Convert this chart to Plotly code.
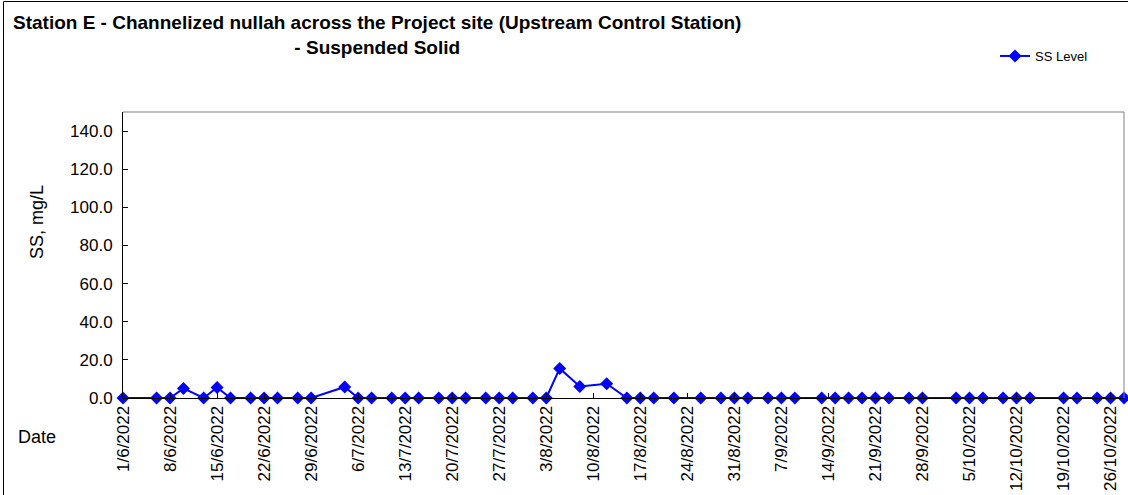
import plotly.graph_objects as go

# Sampling dates (day/month/year) and suspended solid readings, mg/L
sample_dates = [
    "1/6/2022", "6/6/2022", "8/6/2022", "10/6/2022", "13/6/2022", "15/6/2022",
    "17/6/2022", "20/6/2022", "22/6/2022", "24/6/2022", "27/6/2022", "29/6/2022",
    "4/7/2022", "6/7/2022", "8/7/2022", "11/7/2022", "13/7/2022", "15/7/2022",
    "18/7/2022", "20/7/2022", "22/7/2022", "25/7/2022", "27/7/2022", "29/7/2022",
    "1/8/2022", "3/8/2022", "5/8/2022", "8/8/2022", "12/8/2022", "15/8/2022",
    "17/8/2022", "19/8/2022", "22/8/2022", "26/8/2022", "29/8/2022", "31/8/2022",
    "2/9/2022", "5/9/2022", "7/9/2022", "9/9/2022", "13/9/2022", "15/9/2022",
    "17/9/2022", "19/9/2022", "21/9/2022", "23/9/2022", "26/9/2022", "28/9/2022",
    "3/10/2022", "5/10/2022", "7/10/2022", "10/10/2022", "12/10/2022", "14/10/2022",
    "19/10/2022", "21/10/2022", "24/10/2022", "26/10/2022", "28/10/2022",
]
ss_level = [
    0, 0, 0, 5.0, 0, 5.5,
    0, 0, 0, 0, 0, 0,
    5.8, 0, 0, 0, 0, 0,
    0, 0, 0, 0, 0, 0,
    0, 0, 15.5, 6.0, 7.5, 0,
    0, 0, 0, 0, 0, 0,
    0, 0, 0, 0, 0, 0,
    0, 0, 0, 0, 0, 0,
    0, 0, 0, 0, 0, 0,
    0, 0, 0, 0, 0,
]
y_ticks = [0, 20, 40, 60, 80, 100, 120, 140]


def to_iso(d):
    day, month, year = d.split("/")
    return f"{year}-{int(month):02d}-{int(day):02d}"


x_iso = [to_iso(d) for d in sample_dates]

W, H = 1128, 495
L, R, T, B = 123, 4, 112, 97
PW, PH = W - L - R, H - T - B
FONT = "Liberation Sans, Arial, sans-serif"


def px(x):
    return (x - L) / PW


def py(y):
    return (H - B - y) / PH


fig = go.Figure()
fig.add_trace(go.Scatter(
    x=x_iso, y=ss_level, mode="lines+markers", name="SS Level",
    line=dict(color="#0000FF", width=2),
    marker=dict(symbol="diamond", size=10, color="#0000FF"),
    cliponaxis=False,
))

fig.update_layout(
    width=W, height=H,
    margin=dict(l=L, r=R, t=T, b=B, pad=0),
    paper_bgcolor="white", plot_bgcolor="white",
    font=dict(family=FONT, size=17, color="black"),
    showlegend=True,
    legend=dict(
        x=px(995), y=py(56),
        xanchor="left", yanchor="middle",
        font=dict(family=FONT, size=13, color="black"),
        bgcolor="rgba(0,0,0,0)", borderwidth=0,
        itemwidth=30,
    ),
    xaxis=dict(
        type="date",
        range=["2022-06-01", "2022-10-28"],
        tick0="2022-06-01", dtick=7 * 24 * 3600 * 1000,
        tickformat="%-d/%-m/%Y", tickangle=-90,
        ticks="inside", ticklen=5, tickcolor="black",
        showline=True, linecolor="black", linewidth=1,
        showgrid=False, zeroline=False,
        tickfont=dict(family=FONT, size=17),
    ),
    yaxis=dict(
        range=[0, 150], tickvals=y_ticks, tickformat=".1f",
        ticks="inside", ticklen=5, tickcolor="black",
        showline=True, linecolor="black", linewidth=1,
        showgrid=False, zeroline=False,
        tickfont=dict(family=FONT, size=17),
        ticklabelstandoff=6,
    ),
)

# Plot-area frame (top and right) and outer chart border
fig.add_shape(type="line", xref="paper", yref="paper", x0=0, x1=1, y0=1, y1=1,
              line=dict(color="#808080", width=1))
fig.add_shape(type="line", xref="paper", yref="paper", x0=1, x1=1, y0=0, y1=1,
              line=dict(color="#808080", width=1))
fig.add_shape(type="rect", xref="paper", yref="paper",
              x0=px(3.5), x1=px(W + 10), y0=py(1.5), y1=py(H + 10),
              line=dict(color="black", width=1))

# Titles and axis captions
fig.add_annotation(
    text="<b>Station E - Channelized nullah across the Project site (Upstream Control Station)</b><br><b>- Suspended Solid</b>",
    xref="paper", yref="paper", x=px(377), y=py(10),
    xanchor="center", yanchor="top", align="center", showarrow=False,
    font=dict(family=FONT, size=19, color="black"),
)
fig.add_annotation(
    text="SS, mg/L", textangle=-90, xref="paper", yref="paper",
    x=px(37), y=py(222),
    xanchor="center", yanchor="middle", showarrow=False,
    font=dict(family=FONT, size=18, color="black"),
)
fig.add_annotation(
    text="Date", xref="paper", yref="paper",
    x=px(37), y=py(437),
    xanchor="center", yanchor="middle", showarrow=False,
    font=dict(family=FONT, size=18, color="black"),
)

fig.write_html("out.html")
